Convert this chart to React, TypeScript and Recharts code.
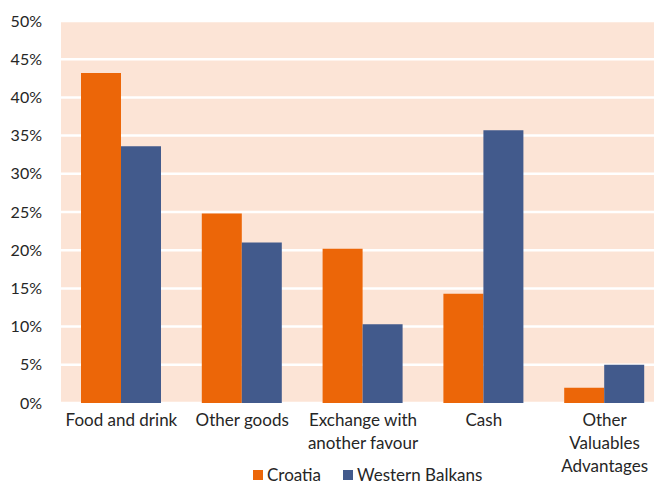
import { BarChart, Bar, XAxis, YAxis, CartesianGrid, Legend } from "recharts";

const categories = [
  "Food and drink",
  "Other goods",
  "Exchange with\nanother favour",
  "Cash",
  "Other\nValuables\nAdvantages",
];
const croatia = [43.2, 24.8, 20.2, 14.3, 2.0];
const westernBalkans = [33.6, 21.0, 10.3, 35.7, 5.0];
const yTicks = [0, 5, 10, 15, 20, 25, 30, 35, 40, 45, 50];

const data = categories.map((name, i) => ({
  name,
  croatia: croatia[i],
  westernBalkans: westernBalkans[i],
}));

const FONT = "Lato, 'Open Sans', sans-serif";
const TEXT = "#262626";
const ORANGE = "#EC6608";
const BLUE = "#425A8C";

function CategoryTick({ x, y, payload }: any) {
  const lines = String(payload.value).split("\n");
  return (
    <g>
      {lines.map((line, i) => (
        <text
          key={i}
          x={x}
          y={y + 23 + i * 23}
          textAnchor="middle"
          fill={TEXT}
          fontSize={17}
          fontFamily={FONT}
        >
          {line}
        </text>
      ))}
    </g>
  );
}

function LegendBox() {
  const items = [
    { label: "Croatia", color: ORANGE },
    { label: "Western Balkans", color: BLUE },
  ];
  return (
    <div
      style={{
        display: "flex",
        justifyContent: "flex-start",
        alignItems: "flex-start",
        boxSizing: "border-box",
        height: 24,
        paddingTop: 7,
        paddingLeft: 253,
        fontFamily: FONT,
        fontSize: 17,
        lineHeight: "14px",
        color: TEXT,
      }}
    >
      {items.map((it, i) => (
        <span
          key={it.label}
          style={{ display: "flex", alignItems: "center", marginLeft: i === 0 ? 0 : 22 }}
        >
          <span
            style={{
              width: 10,
              height: 10,
              background: it.color,
              display: "inline-block",
              marginRight: 4,
            }}
          />
          {it.label}
        </span>
      ))}
    </div>
  );
}

export default function App() {
  return (
    <div style={{ width: 654, height: 485, overflow: "hidden", background: "#fff" }}>
      <style>{`body{margin:0}`}</style>
      <BarChart
        width={670}
        height={485}
        data={data}
        margin={{ top: 21, right: 5, left: 0, bottom: 0 }}
        barCategoryGap={20}
        barGap={0}
      >
        <CartesianGrid
          vertical={false}
          stroke="#ffffff"
          strokeWidth={2.5}
          fill="#FCE4D6"
          fillOpacity={1}
        />
        <XAxis
          dataKey="name"
          axisLine={false}
          tickLine={false}
          tickSize={0}
          tickMargin={0}
          height={58}
          interval={0}
          tick={<CategoryTick />}
        />
        <YAxis
          domain={[0, 50]}
          ticks={yTicks}
          width={61}
          axisLine={false}
          tickLine={false}
          tickSize={0}
          tickMargin={19}
          tickFormatter={(v) => `${v}%`}
          tick={{ fontSize: 16, fill: TEXT, fontFamily: FONT }}
        />
        <Legend
          verticalAlign="bottom"
          wrapperStyle={{ left: 0, width: 670 }}
          content={<LegendBox />}
        />
        <Bar dataKey="croatia" name="Croatia" fill={ORANGE} isAnimationActive={false} />
        <Bar
          dataKey="westernBalkans"
          name="Western Balkans"
          fill={BLUE}
          isAnimationActive={false}
        />
      </BarChart>
    </div>
  );
}
